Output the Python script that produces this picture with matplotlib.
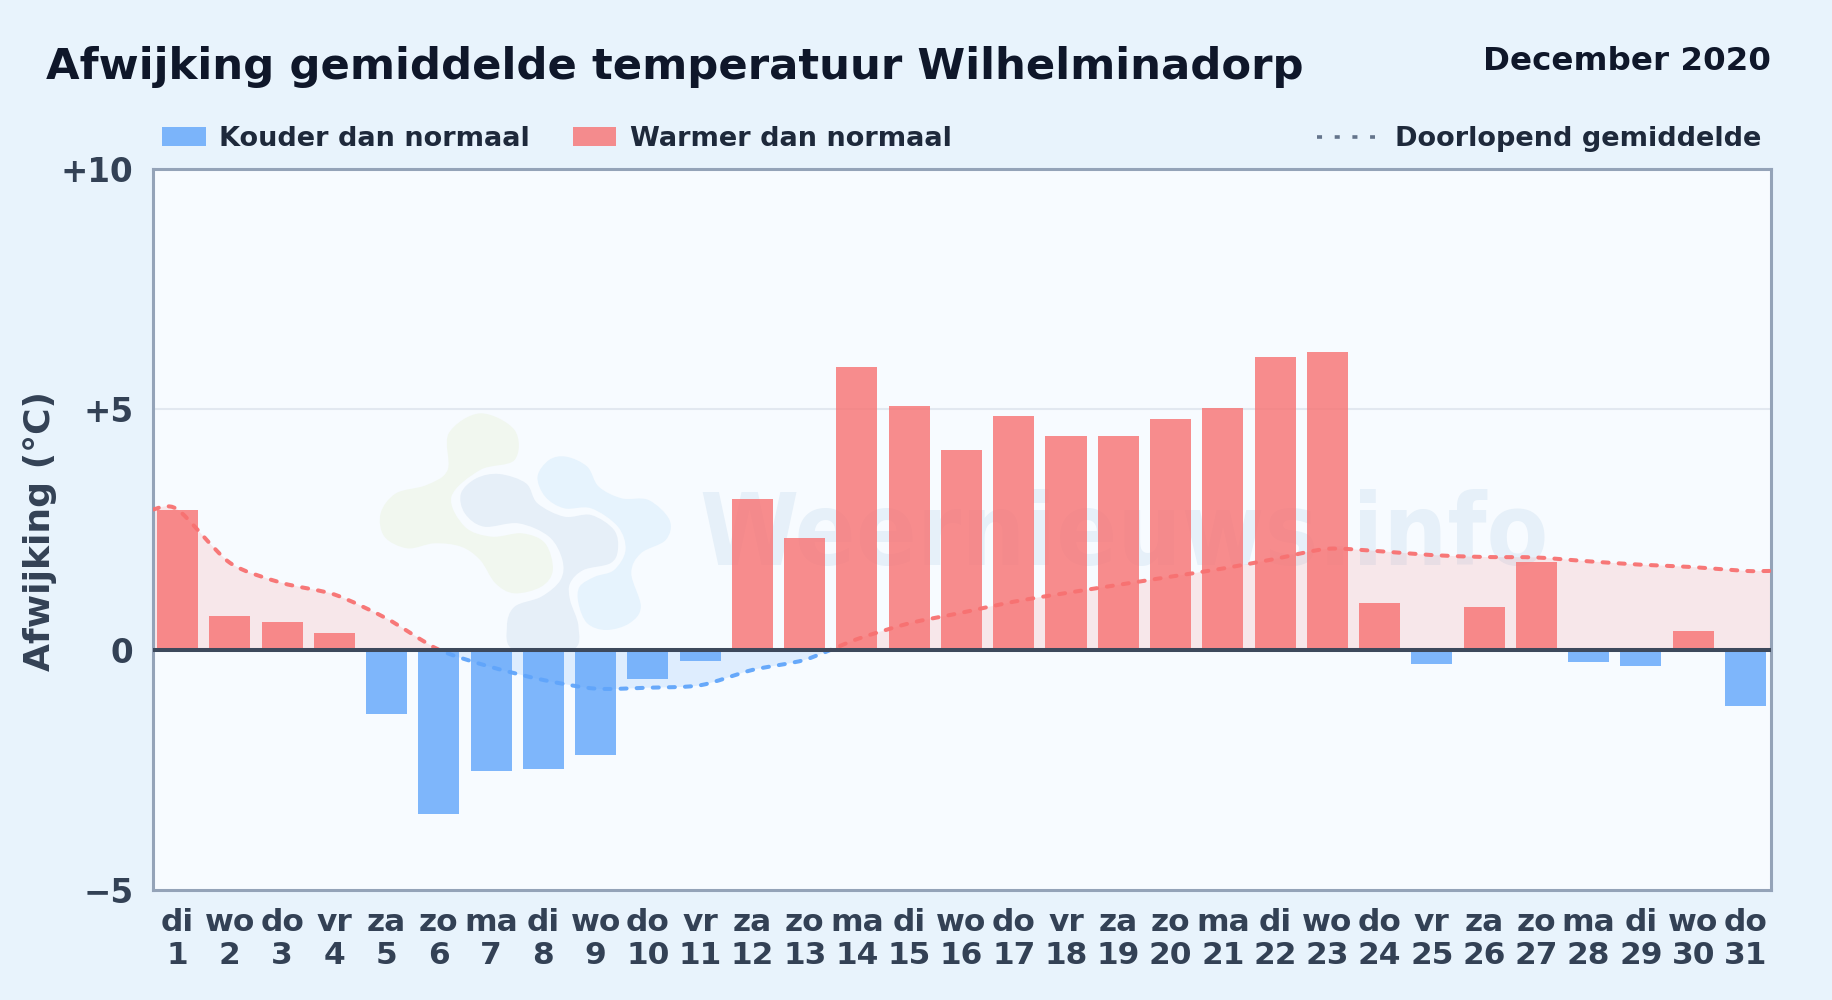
import numpy as np
import matplotlib
matplotlib.use('Agg')
import matplotlib.pyplot as plt
from matplotlib.patches import PathPatch, Rectangle
from matplotlib.path import Path
from matplotlib.transforms import Affine2D

# %%
weekdays = ['di', 'wo', 'do', 'vr', 'za', 'zo', 'ma', 'di', 'wo', 'do', 'vr',
            'za', 'zo', 'ma', 'di', 'wo', 'do', 'vr', 'za', 'zo', 'ma', 'di',
            'wo', 'do', 'vr', 'za', 'zo', 'ma', 'di', 'wo', 'do']
days = list(range(1, 32))
deviation = [2.90, 0.70, 0.58, 0.34, -1.33, -3.42, -2.53, -2.48, -2.20, -0.60,
             -0.23, 3.14, 2.32, 5.88, 5.08, 4.16, 4.86, 4.45, 4.45, 4.80,
             5.04, 6.10, 6.20, 0.98, -0.30, 0.88, 1.82, -0.26, -0.33, 0.38,
             -1.17]
running_mean = [2.92, 1.81, 1.39, 1.15, 0.65, 0.0, -0.36, -0.63, -0.81, -0.79,
                -0.74, -0.42, -0.21, 0.22, 0.55, 0.77, 1.00, 1.18, 1.35, 1.52,
                1.69, 1.89, 2.10, 2.05, 1.97, 1.93, 1.92, 1.84, 1.77, 1.72,
                1.64]

# %%
BG = '#e8f3fc'
PLOT_BG = '#f7fbff'
BLUE = '#60a5fa'
RED = '#f87171'
TICK = '#334155'
XLIM = (0.53, 31.49)
YLIM = (-5, 10)

# pixel space of the png, y down
px = Affine2D().scale(1, -1).translate(0, 1000)


def smooth_path(xs, ys, tension=0.5, closed=False):
    # catmull-rom as bezier segments
    pts = np.column_stack([xs, ys]).astype(float)
    n = len(pts)
    if closed:
        prev_p = np.roll(pts, 1, axis=0)
        next_p = np.roll(pts, -1, axis=0)
    else:
        prev_p = np.vstack([pts[0], pts[:-1]])
        next_p = np.vstack([pts[1:], pts[-1]])
    tang = (next_p - prev_p) * tension / 3
    verts = [pts[0]]
    codes = [Path.MOVETO]
    for i in range(n if closed else n - 1):
        j = (i + 1) % n
        verts += [pts[i] + tang[i], pts[j] - tang[j], pts[j]]
        codes += [Path.CURVE4] * 3
    return verts, codes


def blob(ax, zoom_pts, color):
    z = np.array(zoom_pts, dtype=float)
    verts, codes = smooth_path(350 + z[:, 0] / 2.613, 380 + z[:, 1] / 3,
                               closed=True)
    ax.add_patch(PathPatch(Path(verts, codes), fc=color, ec='none',
                           transform=px, zorder=1))


fig = plt.figure(figsize=(18.32, 10), dpi=100, facecolor=BG)
plt.rcParams['font.family'] = 'DejaVu Sans'
ax = fig.add_axes([153 / 1832, 1 - 890 / 1000, (1771 - 153) / 1832,
                   (890 - 169.2) / 1000], facecolor=PLOT_BG)
ax.set_xlim(*XLIM)
ax.set_ylim(*YLIM)

# %% watermark
blob(ax, [(340, 100), (430, 150), (430, 240), (340, 270), (265, 350),
          (300, 440), (370, 470), (450, 460), (510, 490), (530, 570),
          (500, 620), (430, 640), (380, 610), (340, 540), (290, 500),
          (220, 490), (150, 505), (90, 470), (80, 400), (120, 340),
          (200, 315), (255, 270), (258, 160)], '#f1f7ef')
blob(ax, [(390, 282), (460, 310), (490, 370), (560, 410), (630, 405),
          (690, 450), (700, 510), (680, 550), (610, 570), (575, 610),
          (575, 660), (597, 740), (580, 810), (430, 810), (410, 740),
          (430, 680), (500, 650), (550, 600), (555, 540), (520, 470),
          (440, 430), (350, 440), (300, 400), (290, 340), (330, 295)],
     '#e6eff8')
blob(ax, [(565, 230), (620, 260), (650, 320), (710, 355), (780, 360),
          (835, 420), (825, 480), (760, 520), (735, 580), (760, 680),
          (730, 730), (670, 750), (620, 730), (597, 670), (600, 620),
          (640, 590), (690, 570), (720, 510), (700, 440), (630, 385),
          (560, 385), (510, 350), (490, 290), (520, 240)], '#e6f3fd')
ax.text(1124, 565, 'Weernieuws.info', transform=px, ha='center',
        va='baseline', fontsize=72, fontweight='bold', fontstretch='condensed',
        color='#e6f0f9', zorder=1.5)

# %% running mean, one smooth curve clipped at the zero line
mean_x = [XLIM[0]] + days + [XLIM[1]]
mean_y = [running_mean[0]] + running_mean + [running_mean[-1]]
verts, codes = smooth_path(mean_x, mean_y, tension=0.4)
line_path = Path(verts, codes)
fill_path = Path(verts + [(XLIM[1], 0), (XLIM[0], 0), (XLIM[0], 0)],
                 codes + [Path.LINETO, Path.LINETO, Path.CLOSEPOLY])

clip_up = Rectangle((XLIM[0], 0), XLIM[1] - XLIM[0], YLIM[1],
                    transform=ax.transData)
clip_down = Rectangle((XLIM[0], YLIM[0]), XLIM[1] - XLIM[0], -YLIM[0],
                      transform=ax.transData)
for color, clip, a in [(RED, clip_up, 0.14), (BLUE, clip_down, 0.16)]:
    p = PathPatch(fill_path, fc=color, ec='none', alpha=a, zorder=2)
    ax.add_patch(p)
    p.set_clip_path(clip)

bar_colors = [RED if v >= 0 else BLUE for v in deviation]
ax.bar(days, deviation, width=0.785, color=bar_colors, alpha=0.8, lw=0,
       zorder=3)

for color, clip in [(RED, clip_up), (BLUE, clip_down)]:
    p = PathPatch(line_path, fc='none', ec=color, lw=2.9,
                  ls=(0, (1.5, 2.5)), capstyle='round', alpha=0.95, zorder=4)
    ax.add_patch(p)
    p.set_clip_path(clip)

ax.axhline(5, color='#e2e8f0', lw=1.5, zorder=0.5)
ax.axhline(0, color='#3d495c', lw=2.9, zorder=5)

# %% axes
for s in ax.spines.values():
    s.set_color('#94a3b8')
    s.set_linewidth(2.2)
ax.set_xticks(days)
ax.set_xticklabels([f'{w}\n{d}' for w, d in zip(weekdays, days)],
                   fontsize=22.5, fontweight='bold', color=TICK,
                   linespacing=1.15)
ax.set_yticks([-5, 0, 5, 10])
ax.set_yticklabels(['\u22125', '0', '+5', '+10'], fontsize=23.5,
                   fontweight='bold', color=TICK)
ax.tick_params(axis='x', length=0, pad=13)
ax.tick_params(axis='y', length=0, pad=14)
fig.text(40 / 1832, 1 - 531 / 1000, 'Afwijking (\u00b0C)', rotation=90,
         ha='center', va='center', fontsize=26, fontweight='bold', color=TICK)

# %% header + legend
fig.text(46 / 1832, 1 - 79 / 1000, 'Afwijking gemiddelde temperatuur Wilhelminadorp',
         fontsize=31.25, fontweight='bold', color='#0f172a', va='baseline')
fig.text(1771 / 1832, 1 - 70 / 1000, 'December 2020', ha='right', va='baseline',
         fontsize=23.4, fontweight='bold', color='#0f172a')

legend_kw = dict(fontsize=19.55, fontweight='bold', color='#1e293b', va='baseline')
fig.add_artist(Rectangle((162, 127), 44, 19, fc=BLUE, alpha=0.8, ec='none',
                         transform=px))
fig.text(219 / 1832, 1 - 145.7 / 1000, 'Kouder dan normaal', **legend_kw)
fig.add_artist(Rectangle((573, 127), 43, 19, fc=RED, alpha=0.8, ec='none',
                         transform=px))
fig.text(630 / 1832, 1 - 145.7 / 1000, 'Warmer dan normaal', **legend_kw)
fig.add_artist(plt.Line2D([1317, 1375], [137, 137], color='#64748b', lw=2.6,
                          ls=(0, (1.4, 3.5)), transform=px))
fig.text(1395 / 1832, 1 - 145.7 / 1000, 'Doorlopend gemiddelde', **legend_kw)

fig.savefig('out.png', dpi=100, facecolor=BG)
